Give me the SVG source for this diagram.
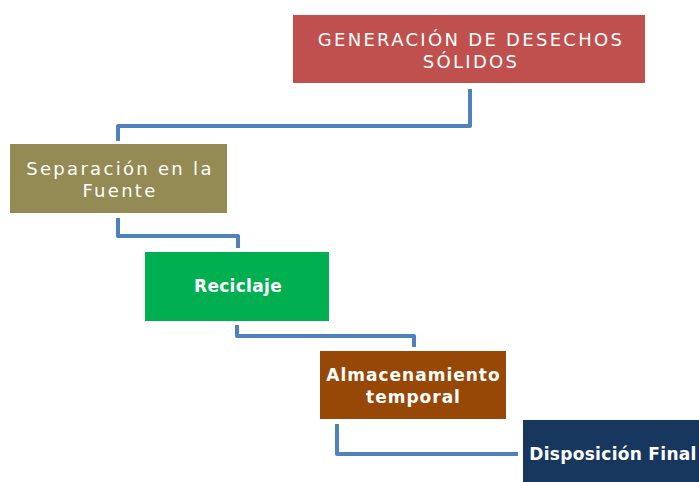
<svg xmlns="http://www.w3.org/2000/svg" width="699" height="482" viewBox="0 0 699 482">
<style>
.lbl{font-family:"DejaVu Sans","Open Sans",sans-serif;fill:#fff;text-anchor:middle}
.reg{font-size:18px;letter-spacing:2.3px}
.bld{font-size:17px;font-weight:bold;letter-spacing:0.3px}
.wide{letter-spacing:1px}
.con{fill:none;stroke:#4F81BD;stroke-width:4;stroke-linejoin:round}
</style>
<rect width="699" height="482" fill="#fff"/>
<g id="connectors">
<path class="con" d="M470,89 V126 H118 V141"/>
<path class="con" d="M118,218 V236 H238 V248"/>
<path class="con" d="M237,325 V336 H414 V347"/>
<path class="con" d="M337,424 V454 H518"/>
</g>
<g id="generacion">
<rect x="293" y="15" width="352" height="68" fill="#C0504D"/>
<text class="lbl reg"><tspan x="471" y="46">GENERACIÓN DE DESECHOS</tspan><tspan x="471" y="68">SÓLIDOS</tspan></text>
</g>
<g id="separacion">
<rect x="10" y="144" width="217" height="69" fill="#948A54"/>
<text class="lbl reg"><tspan x="120" y="175">Separación en la</tspan><tspan x="120" y="197">Fuente</tspan></text>
</g>
<g id="reciclaje">
<rect x="145" y="252" width="184" height="69" fill="#00B050"/>
<text class="lbl bld" x="238" y="292">Reciclaje</text>
</g>
<g id="almacenamiento">
<rect x="320" y="351" width="186" height="68" fill="#974806"/>
<text class="lbl bld wide"><tspan x="413.5" y="381">Almacenamiento</tspan><tspan x="413.5" y="403">temporal</tspan></text>
</g>
<g id="disposicion">
<rect x="523" y="420" width="180" height="66" fill="#17375E"/>
<text class="lbl bld" x="613" y="460">Disposición Final</text>
</g>
</svg>
